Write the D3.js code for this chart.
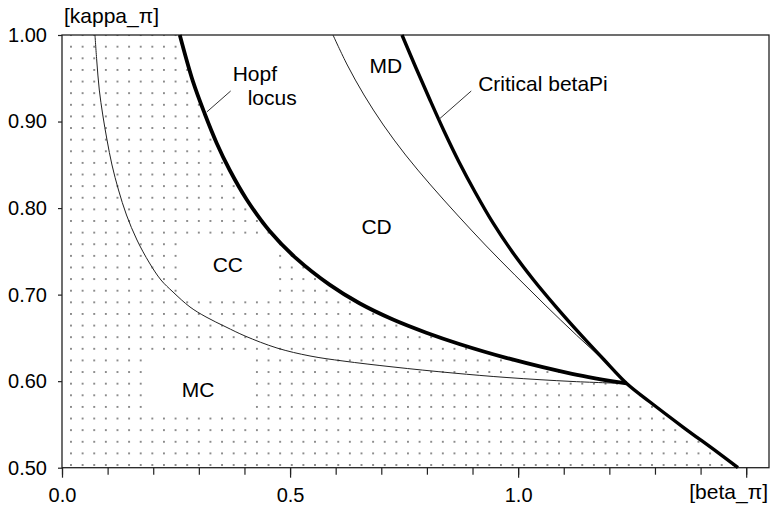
<!DOCTYPE html>
<html>
<head>
<meta charset="utf-8">
<script src="https://cdn.jsdelivr.net/npm/d3@7"></script>
<style>
body { margin: 0; background: #fff; }
text { font-family: "Liberation Sans", Arial, Helvetica, sans-serif; fill: #000; }
</style>
</head>
<body>
<div id="chart"></div>
<script>
// values (beta_pi on x, kappa_pi on y)
const thinLeftBeta  = [0.0723, 0.0761, 0.0818, 0.0894, 0.0987, 0.1096, 0.1239, 0.1414, 0.1644, 0.1918, 0.2170, 0.2434, 0.2806, 0.3157, 0.3595, 0.4012, 0.4713, 0.5437, 0.6160, 0.7257, 0.8572, 0.9756, 1.1203, 1.2380];
const thinLeftKappa = [1.000, 0.9711, 0.9364, 0.9076, 0.8787, 0.8498, 0.8209, 0.7920, 0.7631, 0.7365, 0.7169, 0.7030, 0.6857, 0.6742, 0.6626, 0.6522, 0.6383, 0.6291, 0.6233, 0.6164, 0.6094, 0.6042, 0.5996, 0.5973];

const hopfBeta  = [0.2582, 0.2867, 0.3129, 0.3392, 0.3676, 0.4048, 0.4551, 0.5142, 0.5864, 0.6521, 0.7243, 0.7987, 0.8709, 0.9737, 1.1182, 1.2380];
const hopfKappa = [1.000, 0.947, 0.909, 0.875, 0.844, 0.810, 0.7735, 0.7415, 0.7115, 0.690, 0.6715, 0.656, 0.643, 0.627, 0.6085, 0.5973];

const thinRightBeta  = [0.5941, 0.6255, 0.6621, 0.7046, 0.7533, 0.8081, 0.8669, 0.9282, 0.9927, 1.0591, 1.1277, 1.1867, 1.2380];
const thinRightKappa = [1.000, 0.9653, 0.9307, 0.8960, 0.8613, 0.8267, 0.7920, 0.7573, 0.7227, 0.6880, 0.6533, 0.6244, 0.5973];

const criticalBeta  = [0.7454, 0.7761, 0.8068, 0.8375, 0.8704, 0.9055, 0.9449, 0.9866, 1.0326, 1.0831, 1.1357, 1.1883, 1.2380, 1.2891, 1.3614, 1.4360, 1.4820];
const criticalKappa = [1.000, 0.9619, 0.9249, 0.8891, 0.8533, 0.8186, 0.7828, 0.7498, 0.7178, 0.6859, 0.6546, 0.6247, 0.5973, 0.5759, 0.5470, 0.5182, 0.5000];

const xMinorTicks = [0, 0.1, 0.2, 0.3, 0.4, 0.5, 0.6, 0.7, 0.8, 0.9, 1.0, 1.1, 1.2, 1.3, 1.4, 1.5];
const xMajorTicks = [0, 0.5, 1.0, 1.5];
const xTickLabels = ['0.0', '0.5', '1.0', ''];
const yTicks = [0.5, 0.6, 0.7, 0.8, 0.9, 1.0];

const regionLabels = ['Hopf', 'locus', 'MD', 'Critical betaPi', 'CD', 'CC', 'MC'];
const regionLabelBeta  = [0.3742, 0.4070, 0.6740, 0.9125, 0.6565, 0.3304, 0.2626];
const regionLabelKappa = [0.9468, 0.9191, 0.9561, 0.9353, 0.7700, 0.7261, 0.5817];

// white boxes behind CC and MC (dots removed there)
const blankBeta  = [[0.2626, 0.4683], [0.1860, 0.4158]];
const blankKappa = [[0.7654, 0.6984], [0.6302, 0.5644]];

// leader lines [beta0, kappa0, beta1, kappa1]
const leaders = [[0.3698, 0.9353, 0.3173, 0.9110], [0.8972, 0.9353, 0.8272, 0.9029]];

const width = 771;
const height = 510;

const svg = d3.select('#chart').append('svg').attr('width', width).attr('height', height);

const x = d3.scaleLinear().domain([0, 1.55]).range([62, 769]);
const y = d3.scaleLinear().domain([0.5, 1.0]).range([467.7, 35]);

// dotted fill pattern
const defs = svg.append('defs');
const pat = defs.append('pattern').attr('id', 'dots').attr('patternUnits', 'userSpaceOnUse')
    .attr('x', 65.19).attr('y', 40.89).attr('width', 11.62).attr('height', 11.62);
pat.append('rect').attr('x', 5.1).attr('y', 5.1).attr('width', 1.4).attr('height', 1.4).attr('fill', '#222');

// dotted region: left of Hopf locus, then left of critical line below the junction
const regionPts = [[0, 1.0]];
hopfBeta.forEach((b, i) => regionPts.push([b, hopfKappa[i]]));
criticalBeta.forEach((b, i) => { if (criticalKappa[i] < 0.5973) regionPts.push([b, criticalKappa[i]]); });
regionPts.push([0, 0.5]);
svg.append('path')
    .attr('d', d3.line().x(d => x(d[0])).y(d => y(d[1]))(regionPts) + 'Z')
    .attr('fill', 'url(#dots)');

blankBeta.forEach((b, i) => {
    svg.append('rect').attr('x', x(b[0])).attr('y', y(blankKappa[i][0]))
        .attr('width', x(b[1]) - x(b[0])).attr('height', y(blankKappa[i][1]) - y(blankKappa[i][0]))
        .attr('fill', '#fff');
});

// axes
const yAxis = svg.append('g').attr('transform', 'translate(62,0)')
    .call(d3.axisLeft(y).tickValues(yTicks).tickSize(4).tickPadding(11).tickFormat(d3.format('.2f')));
yAxis.select('.domain').remove();
yAxis.selectAll('text').attr('font-size', '20px').attr('font-family', null);
yAxis.selectAll('line').attr('stroke', '#222').attr('stroke-width', 1.2);

const xMinor = svg.append('g').attr('transform', 'translate(0,467.7)')
    .call(d3.axisBottom(x).tickValues(xMinorTicks).tickSize(7).tickFormat(''));
xMinor.select('.domain').remove();
xMinor.selectAll('line').attr('stroke', '#222').attr('stroke-width', 1.2);

const xMajor = svg.append('g').attr('transform', 'translate(0,467.7)')
    .call(d3.axisBottom(x).tickValues(xMajorTicks).tickSize(10).tickPadding(10).tickFormat((d, i) => xTickLabels[i]));
xMajor.select('.domain').remove();
xMajor.selectAll('text').attr('font-size', '20px').attr('font-family', null);
xMajor.selectAll('line').attr('stroke', '#222').attr('stroke-width', 1.2);

// frame
svg.append('rect').attr('x', x(0)).attr('y', y(1)).attr('width', x(1.55) - x(0)).attr('height', y(0.5) - y(1))
    .attr('fill', 'none').attr('stroke', '#222').attr('stroke-width', 1.3);

svg.append('text').attr('x', 64).attr('y', 23).attr('font-size', '21px').text('[kappa_\u03c0]');
svg.append('text').attr('x', 768).attr('y', 499).attr('text-anchor', 'end').attr('font-size', '21px').text('[beta_\u03c0]');

// curves
const line = d3.line().x(d => x(d[0])).y(d => y(d[1])).curve(d3.curveCatmullRom.alpha(0.5));
const zip = (a, b) => a.map((v, i) => [v, b[i]]);

svg.append('path').attr('d', line(zip(thinLeftBeta, thinLeftKappa)))
    .attr('fill', 'none').attr('stroke', '#222').attr('stroke-width', 1);
svg.append('path').attr('d', line(zip(thinRightBeta, thinRightKappa)))
    .attr('fill', 'none').attr('stroke', '#222').attr('stroke-width', 1);
svg.append('path').attr('d', line(zip(hopfBeta, hopfKappa)))
    .attr('fill', 'none').attr('stroke', '#000').attr('stroke-width', 3.8);
svg.append('path').attr('d', line(zip(criticalBeta, criticalKappa)))
    .attr('fill', 'none').attr('stroke', '#000').attr('stroke-width', 3.4);

// leader lines and labels
leaders.forEach(l => {
    svg.append('line').attr('x1', x(l[0])).attr('y1', y(l[1])).attr('x2', x(l[2])).attr('y2', y(l[3]))
        .attr('stroke', '#333').attr('stroke-width', 1);
});

regionLabels.forEach((t, i) => {
    svg.append('text').attr('x', x(regionLabelBeta[i])).attr('y', y(regionLabelKappa[i]))
        .attr('font-size', '21px').text(t);
});
</script>
</body>
</html>
